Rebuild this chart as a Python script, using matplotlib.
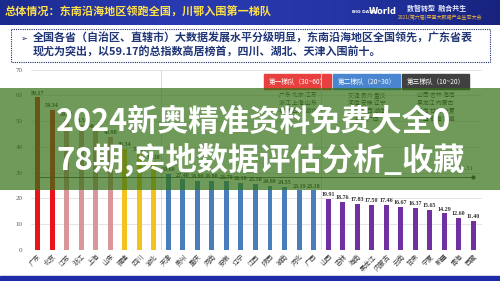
import matplotlib
matplotlib.use("Agg")
import matplotlib.pyplot as plt
from matplotlib.patches import Rectangle
from matplotlib.colors import LinearSegmentedColormap
import numpy as np

plt.rcParams['font.family'] = ['Noto Sans CJK SC', 'DejaVu Sans']

PROVINCES = ["广东", "北京", "江苏", "浙江", "上海", "山东", "福建", "四川", "湖北",
             "天津", "贵州", "重庆", "河南", "安徽", "辽宁", "江西", "陕西", "湖南",
             "河北", "广西", "山西", "吉林", "海南", "黑龙江", "内蒙古", "云南",
             "甘肃", "宁夏", "新疆", "青海", "西藏"]
VALUES = [59.17, 54.34, 50.80, 48.50, 46.30, 43.98, 39.34, 37.53, 34.38,
          29.60, 27.40, 26.90, 26.80, 26.70, 26.10, 25.58, 24.89, 24.55,
          23.19, 23.18, 19.91, 18.76, 17.83, 17.50, 17.46, 16.67,
          16.37, 15.65, 14.29, 12.60, 11.40]
GROUP_SIZES = [2, 4, 3, 11, 11]
GROUP_COLORS = ["#E8161B", "#D8989B", "#F3C21F", "#4A7EBB", "#7030A0"]
AVERAGE = 28.31

TITLE = "总体情况：东南沿海地区领跑全国，川鄂入围第一梯队"
SUMMARY = ["全国各省（自治区、直辖市）大数据发展水平分级明显，东南沿海地区全国领先，广东省表",
           "现尤为突出，以59.17的总指数高居榜首，四川、湖北、天津入围前十。"]
TIERS = ["第一梯队（30~60）", "第二梯队（20~30）", "第三梯队（10~20）"]
TIER_COLORS = ["#E8403F", "#4A86CF", "#404040"]
TIER_MEMBERS = [["广东 北京 江苏", "浙江 上海 山东", "福建 四川 湖北"],
                ["天津 贵州 重庆", "河南 安徽 辽宁", "江西 陕西 湖南", "河北 广西"],
                ["山西 吉林 海南", "黑龙江 内蒙古", "云南 甘肃 宁夏", "新疆 青海 西藏"]]
OVERLAY = ["2024新奥精准资料免费大全0", "78期,实地数据评估分析_收藏"]

bar_colors = []
for n, c in zip(GROUP_SIZES, GROUP_COLORS):
    bar_colors += [c] * n

fig = plt.figure(figsize=(5, 2.81), dpi=100)

# page background, banner, summary box (pixel coordinates)
base = fig.add_axes([0, 0, 1, 1], zorder=0)
base.set_xlim(0, 500)
base.set_ylim(281, 0)
base.axis("off")

cmap = LinearSegmentedColormap.from_list("banner", ["#1B2A8E", "#2A3BB2", "#2436A6", "#18237E"])
base.imshow(np.linspace(0, 1, 200).reshape(1, -1), extent=(0, 500, 25, 0),
            aspect="auto", cmap=cmap, zorder=1)
base.text(5, 12.5, TITLE, color="#FFE14A", fontsize=8, fontweight="bold",
          va="center", ha="left", zorder=2)
base.text(352, 12, "BIG DATA", color="white", fontsize=3.2, va="center", zorder=2,
          family="DejaVu Sans", fontweight="bold")
base.text(369, 11, "World", color="white", fontsize=6, va="center", zorder=2,
          family="DejaVu Sans", fontweight="bold")
base.text(437, 8, "数智转型  融合共生", color="#E8ECFF", fontsize=5, ha="center",
          va="center", zorder=2, fontweight="bold")
base.text(440, 17.5, "2021(第六届)中国大数据产业生态大会", color="#F5B83C", fontsize=3.6,
          ha="center", va="center", zorder=2)
base.add_patch(Rectangle((0, 276), 500, 5, color="#1E2BA8", zorder=1))

base.add_patch(Rectangle((11, 29), 479, 33, fill=False, edgecolor="#1F2D6B",
                         linestyle=(0, (1, 1)), linewidth=0.8, zorder=2))
base.text(20, 38.5, "➢", color="#1F2D6B", fontsize=6, va="center", ha="left",
          family=["DejaVu Sans"], zorder=2)
for k, line in enumerate(SUMMARY):
    base.text(33, 38.5 + k * 14, line, color="#1F3575", fontsize=7.95,
              fontweight="bold", va="center", ha="left", zorder=2)

# tier legend
for k, (name, col, members) in enumerate(zip(TIERS, TIER_COLORS, TIER_MEMBERS)):
    x0 = 264 + k * 69
    base.add_patch(Rectangle((x0, 74), 67, 15, color=col, zorder=2))
    base.text(x0 + 33.5, 81.5, name, color="white", fontsize=4.8, ha="center",
              va="center", zorder=3)
    for r, m in enumerate(members):
        base.text(x0 + 33.5, 95 + r * 8, m, color="#3A3A3A", fontsize=4.2,
                  ha="center", va="center", zorder=3)

# chart
ax = fig.add_axes([31 / 500, 31 / 281, 451 / 500, 180.5 / 281], zorder=1)
ax.patch.set_alpha(0)
x = np.arange(len(PROVINCES))
ax.bar(x, VALUES, width=0.34, color=bar_colors, zorder=3)
for i, v in enumerate(VALUES):
    ax.text(i, v + 0.6, f"{v:.2f}", ha="center", va="bottom", fontsize=4.3,
            family="Liberation Serif", fontweight="bold", color="#333333", zorder=4)
ax.plot(x, [AVERAGE] * len(x), color="#3A3A3A", linewidth=0.6, zorder=4)
ax.plot([x[-1]], [AVERAGE], "o", color="#3A3A3A", markersize=2, zorder=4)
ax.text(x[-1] - 0.5, AVERAGE + 2.2, f"{AVERAGE:.2f}", ha="center", va="bottom",
        fontsize=4.8, family="Liberation Serif", color="#333333", zorder=4)
ax.axvline(8.5, color="#F2C6C6", linewidth=0.6, zorder=2)
ax.axvline(19.5, color="#DADADA", linewidth=0.6, zorder=2)

ax.set_xlim(-0.46, 30.6)
ax.set_ylim(0, 70)
ax.set_yticks(range(0, 80, 10))
ax.yaxis.grid(True, color="#D9D9D9", linewidth=0.5, zorder=0)
ax.set_axisbelow(True)
for s in ax.spines.values():
    s.set_visible(False)
ax.tick_params(length=0)
ax.tick_params(axis="y", pad=6, labelsize=5, labelcolor="#595959")
for t in ax.get_yticklabels():
    t.set_family("Liberation Serif")
ax.set_xticks(x)
ax.set_xticklabels(PROVINCES, rotation=45, ha="right", rotation_mode="anchor",
                   fontsize=4.8, color="#404040")
ax.tick_params(axis="x", pad=2)

# green overlay band with large text
top = fig.add_axes([0, 0, 1, 1], zorder=5)
top.set_xlim(0, 500)
top.set_ylim(281, 0)
top.axis("off")
top.patch.set_alpha(0)
top.add_patch(Rectangle((0, 88), 500, 102, color="#337013", alpha=0.7, linewidth=0))
top.text(56, 122, OVERLAY[0], color="white", fontsize=22, fontweight="bold",
         ha="left", va="center")
top.text(56, 159, OVERLAY[1], color="white", fontsize=22.5, fontweight="bold",
         ha="left", va="center")

fig.savefig("out.png", dpi=100)
